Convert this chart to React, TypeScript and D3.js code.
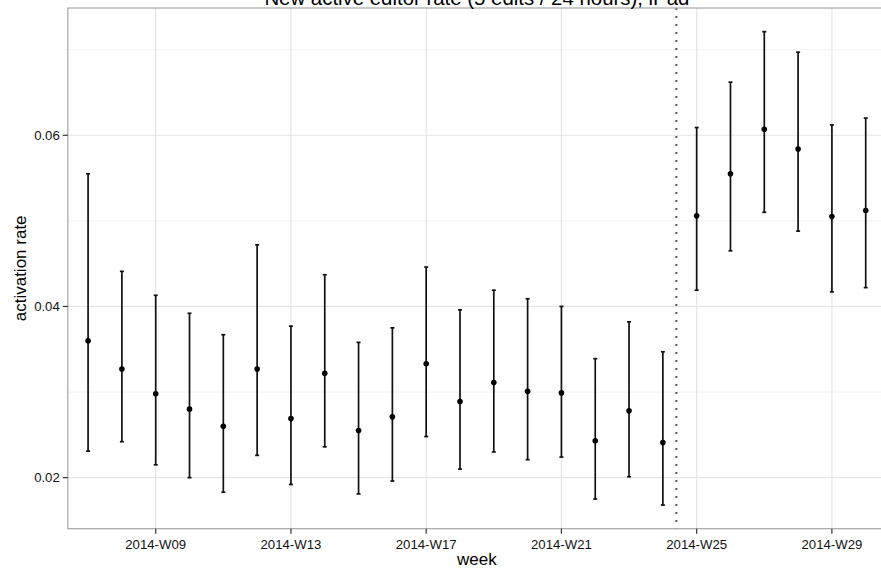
import React from "react";
import * as d3 from "d3";

// weekly activation rate, iPad, with confidence bounds
const weeks = [
  "2014-W07", "2014-W08", "2014-W09", "2014-W10", "2014-W11", "2014-W12",
  "2014-W13", "2014-W14", "2014-W15", "2014-W16", "2014-W17", "2014-W18",
  "2014-W19", "2014-W20", "2014-W21", "2014-W22", "2014-W23", "2014-W24",
  "2014-W25", "2014-W26", "2014-W27", "2014-W28", "2014-W29", "2014-W30",
];
const rate = [
  0.0360, 0.0327, 0.0298, 0.0280, 0.0260, 0.0327,
  0.0269, 0.0322, 0.0255, 0.0271, 0.0333, 0.0289,
  0.0311, 0.0301, 0.0299, 0.0243, 0.0278, 0.0241,
  0.0506, 0.0555, 0.0607, 0.0584, 0.0505, 0.0512,
];
const lower = [
  0.0231, 0.0242, 0.0215, 0.0200, 0.0183, 0.0226,
  0.0192, 0.0236, 0.0181, 0.0196, 0.0248, 0.0210,
  0.0230, 0.0221, 0.0224, 0.0175, 0.0201, 0.0168,
  0.0419, 0.0465, 0.0510, 0.0488, 0.0417, 0.0422,
];
const upper = [
  0.0555, 0.0441, 0.0413, 0.0392, 0.0367, 0.0472,
  0.0377, 0.0437, 0.0358, 0.0375, 0.0446, 0.0396,
  0.0419, 0.0409, 0.0400, 0.0339, 0.0382, 0.0347,
  0.0609, 0.0662, 0.0721, 0.0697, 0.0612, 0.0620,
];
const xBreaks = ["2014-W09", "2014-W13", "2014-W17", "2014-W21", "2014-W25", "2014-W29"];
const yBreaks = [0.02, 0.04, 0.06];
const yMinor = [0.03, 0.05, 0.07];
// dashed marker, in discrete x positions (1 = first week)
const changeAt = 18.4;

const title = "New active editor rate (5 edits / 24 hours), iPad";

const width = 881;
const height = 569;
const margin = { top: 8, right: -5, bottom: 40.3, left: 67.8 };
const font = "'Liberation Sans', Arial, Helvetica, sans-serif";

export default function App() {
  const x = d3
    .scalePoint<string>()
    .domain(weeks)
    .range([margin.left, width - margin.right])
    .padding(0.6);

  const lo = d3.min(lower) as number;
  const hi = d3.max(upper) as number;
  const pad = (hi - lo) * 0.05;
  const y = d3
    .scaleLinear()
    .domain([lo - pad, hi + pad])
    .range([height - margin.bottom, margin.top]);

  const step = x.step();
  const x0 = x(weeks[0]) as number;
  const vx = x0 + (changeAt - 1) * step;
  const left = margin.left;
  const right = width - margin.right;
  const top = margin.top;
  const bottom = height - margin.bottom;
  const cap = 2;

  return (
    <svg
      width={width}
      height={height}
      style={{ position: "absolute", left: 0, top: 0, background: "white" }}
      fontFamily={font}
    >
      <rect x={left} y={top} width={right - left} height={bottom - top} fill="white" />
      {/* minor grid */}
      {yMinor.map((v) => (
        <line key={"mn" + v} x1={left} x2={right} y1={y(v)} y2={y(v)} stroke="#f5f5f5" strokeWidth={1.2} />
      ))}
      {/* major grid */}
      {yBreaks.map((v) => (
        <line key={"mj" + v} x1={left} x2={right} y1={y(v)} y2={y(v)} stroke="#e5e5e5" strokeWidth={1.2} />
      ))}
      {xBreaks.map((w) => (
        <line key={"gx" + w} x1={x(w)} x2={x(w)} y1={top} y2={bottom} stroke="#e5e5e5" strokeWidth={1.2} />
      ))}

      {/* marker line */}
      <line x1={vx} x2={vx} y1={top} y2={bottom} stroke="#555" strokeWidth={2} strokeDasharray="2,6" />

      {/* error bars */}
      {weeks.map((w, i) => {
        const cx = x(w) as number;
        return (
          <g key={w} stroke="#111" strokeWidth={1.7}>
            <line x1={cx} x2={cx} y1={y(lower[i])} y2={y(upper[i])} />
            <line x1={cx - cap} x2={cx + cap} y1={y(lower[i])} y2={y(lower[i])} />
            <line x1={cx - cap} x2={cx + cap} y1={y(upper[i])} y2={y(upper[i])} />
          </g>
        );
      })}
      {weeks.map((w, i) => (
        <circle key={"p" + w} cx={x(w)} cy={y(rate[i])} r={2.8} fill="black" />
      ))}

      <rect x={left} y={top} width={right - left} height={bottom - top} fill="none" stroke="#a6a6a6" strokeWidth={1.2} />

      {/* x axis */}
      {xBreaks.map((w) => (
        <g key={"tx" + w}>
          <line x1={x(w)} x2={x(w)} y1={bottom} y2={bottom + 5} stroke="#333" strokeWidth={1.2} />
          <text x={x(w)} y={bottom + 20.5} textAnchor="middle" fontSize={13.2} fill="#111">
            {w}
          </text>
        </g>
      ))}
      {/* y axis */}
      {yBreaks.map((v) => (
        <g key={"ty" + v}>
          <line x1={left - 5} x2={left} y1={y(v)} y2={y(v)} stroke="#333" strokeWidth={1.2} />
          <text x={left - 8} y={y(v)} dy="0.35em" textAnchor="end" fontSize={13.2} fill="#111">
            {d3.format(".2f")(v)}
          </text>
        </g>
      ))}

      <text x={(left + right) / 2} y={565} textAnchor="middle" fontSize={17} fill="black">
        week
      </text>
      <text
        transform={`translate(26,${(top + bottom) / 2}) rotate(-90)`}
        textAnchor="middle"
        fontSize={17}
        fill="black"
      >
        activation rate
      </text>
      <text x={(left + right) / 2} y={4.5} textAnchor="middle" fontSize={20.4} fill="black">
        {title}
      </text>
    </svg>
  );
}
